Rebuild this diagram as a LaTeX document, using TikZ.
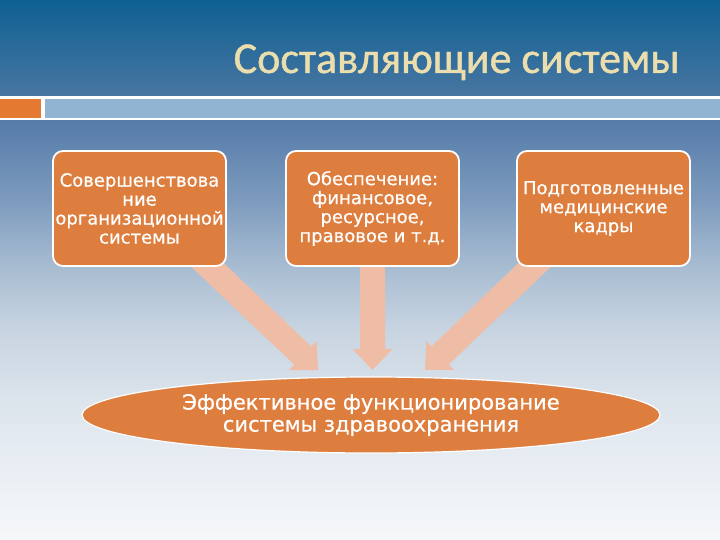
\documentclass[tikz,border=0pt]{standalone}
\usepackage{fontspec}
\setmainfont{DejaVu Sans}
\newfontfamily\boxfont{DejaVu Sans}[FakeBold=0.6]
\newfontfamily\titlefont{Carlito}[FakeBold=1]
\usetikzlibrary{shapes.geometric,calc}
\definecolor{bgA}{RGB}{14,96,146}
\definecolor{bgB}{RGB}{72,118,162}
\definecolor{bgC}{RGB}{88,125,170}
\definecolor{bgD}{RGB}{125,155,190}
\definecolor{bgE}{RGB}{170,190,210}
\definecolor{bgF}{RGB}{200,212,225}
\definecolor{bgG}{RGB}{220,228,236}
\definecolor{bgH}{RGB}{235,240,245}
\definecolor{bgI}{RGB}{246,248,250}
\definecolor{stripeblue}{RGB}{145,180,210}
\definecolor{stripeor}{RGB}{228,122,50}
\definecolor{boxor}{RGB}{222,126,62}
\definecolor{arrowc}{RGB}{239,189,166}
\definecolor{titlec}{RGB}{236,222,172}
\newcommand{\blockarrow}[2]{%
  \path ($(#2)!21pt!(#1)$) coordinate (ab);
  \fill[arrowc] ($(#1)!12.5pt!90:(#2)$) -- ($(ab)!12.5pt!-90:(#1)$) -- ($(ab)!20pt!-90:(#1)$) -- (#2) -- ($(ab)!20pt!90:(#1)$) -- ($(ab)!12.5pt!90:(#1)$) -- ($(#1)!12.5pt!-90:(#2)$) -- cycle;
}
\begin{document}
\begin{tikzpicture}[x=1pt,y=-1pt,
  sbox/.style={draw=white, line width=1.8pt, fill=boxor, rounded corners=10pt,
    minimum width=173pt, minimum height=115pt, inner sep=0pt, align=center,
    text=white, font=\boxfont\fontsize{18}{19}\selectfont},
  ell/.style={ellipse, draw=white, line width=1.2pt, fill=boxor,
    minimum width=578pt, minimum height=76pt, inner sep=0pt, align=center,
    text=white, font=\boxfont\fontsize{21}{22}\selectfont},
  titlest/.style={font=\titlefont\fontsize{44}{48}\selectfont, inner sep=0pt, anchor=base east}]
\useasboundingbox (0,0) rectangle (720,540);
% background
\shade[top color=bgA, bottom color=bgB] (0,0) rectangle (720,95.5);
\shade[top color=bgB, bottom color=bgC] (0,95) rectangle (720,125.5);
\shade[top color=bgC, bottom color=bgD] (0,125) rectangle (720,200.5);
\shade[top color=bgD, bottom color=bgE] (0,200) rectangle (720,270.5);
\shade[top color=bgE, bottom color=bgF] (0,270) rectangle (720,330.5);
\shade[top color=bgF, bottom color=bgG] (0,330) rectangle (720,400.5);
\shade[top color=bgG, bottom color=bgH] (0,400) rectangle (720,480.5);
\shade[top color=bgH, bottom color=bgI] (0,480) rectangle (720,540);
% header stripe
\fill[white] (0,96.5) rectangle (720,120.5);
\fill[stripeor] (0,99) rectangle (41,118);
\fill[stripeblue] (45,99) rectangle (720,118);
% title
\node[titlest, text=titlec] (title) at (680,73) {Составляющие системы};
% positions
\path (139.5,208.5) coordinate (c1) (372.5,208.5) coordinate (c2) (603.5,208.5) coordinate (c3);
\path (318,370) coordinate (t1) (372.5,370) coordinate (t2) (425,370) coordinate (t3);
\path (197,255) coordinate (s1) (372.5,256) coordinate (s2) (545,255) coordinate (s3);
% arrows
\blockarrow{s1}{t1}
\blockarrow{s2}{t2}
\blockarrow{s3}{t3}
% boxes
\node[sbox] (b1) at (c1) {Совершенствова\\ние\\организационной\\системы};
\node[sbox] (b2) at (c2) {Обеспечение:\\финансовое,\\ресурсное,\\правовое и т.д.};
\node[sbox] (b3) at (c3) {Подготовленные\\медицинские\\кадры};
% ellipse
\node[ell] (e) at (371,415) {Эффективное функционирование\\системы здравоохранения};
\end{tikzpicture}
\end{document}
